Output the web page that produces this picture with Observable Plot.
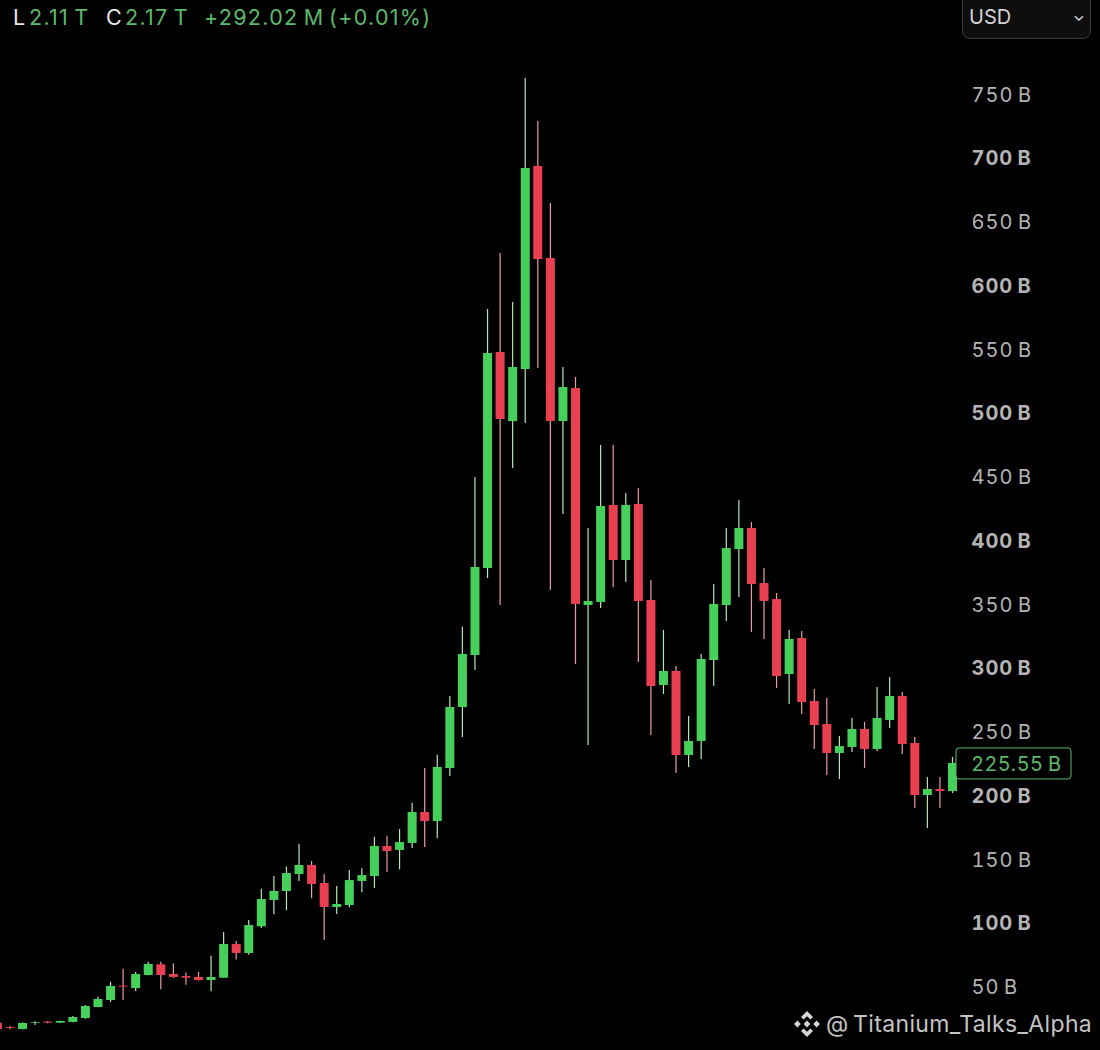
<!DOCTYPE html>
<html><head><meta charset="utf-8">
<script src="https://cdn.jsdelivr.net/npm/d3@7"></script>
<script src="https://cdn.jsdelivr.net/npm/@observablehq/plot@0.6"></script>
<style>
html,body{margin:0;padding:0;background:#000;width:1100px;height:1050px;overflow:hidden}
#wrap{position:relative;width:1100px;height:1050px;font-family:Inter,"Liberation Sans",sans-serif}
#wrap svg{display:block}
.hdr span{position:absolute;top:4px;font-size:21.5px;line-height:26px;white-space:pre;color:#5cb96b;letter-spacing:1.3px}
.hdr span.k{color:#e8e8e8;letter-spacing:0}
.usd{position:absolute;left:962px;top:-12px;width:127px;height:49px;border:1px solid #3c3c3c;border-radius:8px;background:#0e0e0e;color:#d2d2d2;font-size:20px;box-sizing:content-box}
.usd span{position:absolute;left:6px;top:15px;line-height:26px}
.usd i{position:absolute;left:110px;top:14px;font-style:normal;font-size:15px;line-height:26px;color:#dcdcdc}
.wm{position:absolute;left:793px;top:1008px;display:flex;align-items:center;color:#c4c4c4;font-size:23px;line-height:32px;white-space:pre;letter-spacing:.35px}
.wm svg{margin-right:5px}
</style></head><body>
<div id="wrap"></div>
<script>
const opens = [21.0,17.6,16.1,21.0,21.8,21.0,21.6,24.7,33.3,38.8,50.1,48.2,58.4,66.8,59.2,57.6,56.9,54.5,56.3,82.7,75.7,96.6,117.3,124.3,137.6,144.7,130.6,111.8,113.3,132.2,136.1,159.6,156.5,162.0,186.3,179.2,220.8,268.6,309.4,377.6,547.1,492.9,533.7,692.9,620.8,492.9,518.8,348.6,351.0,427.1,383.9,427.8,352.5,285.9,296.9,231.0,242.0,305.5,348.6,392.5,409.0,365.9,353.3,294.5,322.7,273.3,255.3,232.5,237.3,251.4,235.7,258.4,277.3,240.4,199.6,204.3,202.7];
const highs = [21.0,18.7,21.3,22.1,22.4,22.6,26.3,34.9,41.4,53.2,63.4,60.8,68.9,68.9,67.6,60.3,60.8,73.6,92.2,85.1,101.6,126.1,136.1,143.4,161.2,147.9,137.6,128.2,140.8,142.1,166.9,167.7,172.9,193.6,220.8,231.2,277.3,331.6,449.0,580.8,624.7,586.3,762.0,728.2,664.0,535.3,527.5,409.0,474.1,474.1,436.5,440.4,368.2,329.0,300.8,261.6,310.2,365.1,409.0,431.0,413.7,377.6,358.0,329.0,328.2,282.7,275.7,245.9,260.0,256.9,284.3,292.2,280.4,245.1,213.7,213.7,229.4];
const lows = [16.1,15.8,15.8,19.2,20.5,20.9,21.3,24.2,33.1,37.3,38.8,45.9,58.2,47.2,56.3,50.8,54.0,45.6,56.1,70.5,74.4,95.3,106.0,109.2,132.2,118.6,85.9,106.3,111.5,123.3,126.7,139.2,141.3,158.0,158.8,165.6,214.5,245.1,297.6,369.8,348.6,456.1,491.4,534.5,360.4,420.0,302.4,238.8,346.3,362.7,366.7,303.9,246.7,278.8,216.9,221.6,227.8,285.1,336.1,354.9,327.5,322.0,283.5,271.0,263.1,235.7,215.3,212.2,233.3,220.8,234.1,252.2,231.8,189.4,173.7,189.4,201.2];
const closes = [16.1,16.9,20.8,21.6,21.0,22.4,25.5,34.1,39.6,49.8,49.3,59.2,67.1,58.4,56.9,56.3,54.5,56.9,82.7,75.7,97.6,118.0,124.3,138.4,144.7,129.8,111.8,114.1,132.9,136.8,159.6,155.7,162.7,186.3,179.2,221.6,268.6,310.2,378.4,546.3,494.5,535.3,691.4,620.0,492.9,519.6,349.4,351.8,426.3,383.9,427.1,351.8,285.1,296.9,231.0,242.0,306.3,349.4,393.3,409.0,365.1,351.8,292.9,322.0,272.5,254.5,232.5,238.0,251.4,235.7,260.0,277.3,239.6,199.6,204.3,202.7,224.7];

const thinTicks = [50,150,250,350,450,550,650,750];
const boldTicks = [100,200,300,400,500,600,700];
const lastPrice = 225.55;
const GREEN = "#46cf5a", RED = "#e83f51", GREEN_W = "#b4e6b8", RED_W = "#ec9aa3";

const candles = closes.map((c,i)=>({i, o:opens[i], h:highs[i], l:lows[i], c, up:c>=opens[i]}));
const fmt = d => d + "\u2009B";
const axisStyle = {anchor:"right", tickSize:0, tickPadding:0, label:null, tickFormat:fmt, fontSize:20, fill:"#b4b4b4", textAnchor:"start", dy:1.5};

const chart = Plot.plot({
  width:1100, height:1050,
  marginTop:0, marginBottom:0, marginLeft:0, marginRight:129,
  style:{background:"#000", fontFamily:"Inter, 'Liberation Sans', sans-serif", letterSpacing:"1px"},
  x:{domain:[1,76], range:[9.5,952], axis:null},
  y:{domain:[0,800], range:[1049.5,29.5], axis:null},
  marks:[
    Plot.ruleX(candles,{x:"i", y1:"l", y2:"h", strokeWidth:1.2, stroke:d=>d.up?GREEN_W:RED_W}),
    Plot.ruleX(candles,{x:"i", y1:d=>Math.min(d.o,d.c), y2:d=>Math.max(d.o,d.c), strokeWidth:9, stroke:d=>d.up?GREEN:RED}),
    Plot.axisY(thinTicks,{...axisStyle, fontWeight:400}),
    Plot.axisY(boldTicks,{...axisStyle, fontWeight:700}),
    Plot.rect([lastPrice],{x1:()=>76.32, x2:()=>85.47, y1:d=>d-13.35, y2:d=>d+10.95, fill:"#000", stroke:"#5cb96b", strokeWidth:1, rx:3}),
    Plot.text([lastPrice],{y:d=>d, text:d=>d.toFixed(2)+"\u2009B", frameAnchor:"right", textAnchor:"start", dx:0, dy:2, fontSize:20, fill:"#5cb96b"})
  ]
});
const wrap = document.getElementById("wrap");
wrap.append(chart);

const headerParts = [["L",13,"k"],["2.11\u2009T",29,""],["C",106,"k"],["2.17\u2009T",125,""],["+292.02\u2009M",204,""],["(+0.01%)",329,""]];
const hdr = document.createElement("div");
hdr.className = "hdr";
for (const [t,l,c] of headerParts){
  const s = document.createElement("span");
  s.textContent = t; s.style.left = l+"px"; if(c) s.className = c;
  hdr.append(s);
}
wrap.append(hdr);

const usd = document.createElement("div");
usd.className = "usd";
usd.innerHTML = '<span>USD</span><i>\u2304</i>';
wrap.append(usd);

const wm = document.createElement("div");
wm.className = "wm";
wm.innerHTML = '<svg width="28" height="28" viewBox="0 0 28 28" fill="#d4d4d4"><path d="M14 1l6 6-2.6 2.6L14 6.2l-3.4 3.4L8 7z"/><path d="M14 27l-6-6 2.6-2.6 3.4 3.4 3.4-3.4L20 21z"/><path d="M1 14l3.4-3.4L7.8 14l-3.4 3.4z"/><path d="M20.2 14l3.4-3.4L27 14l-3.4 3.4z"/><path d="M14 10.6l3.4 3.4-3.4 3.4-3.4-3.4z"/></svg><span>@\u2009Titanium_Talks_Alpha</span>';
wrap.append(wm);
</script>
</body></html>
